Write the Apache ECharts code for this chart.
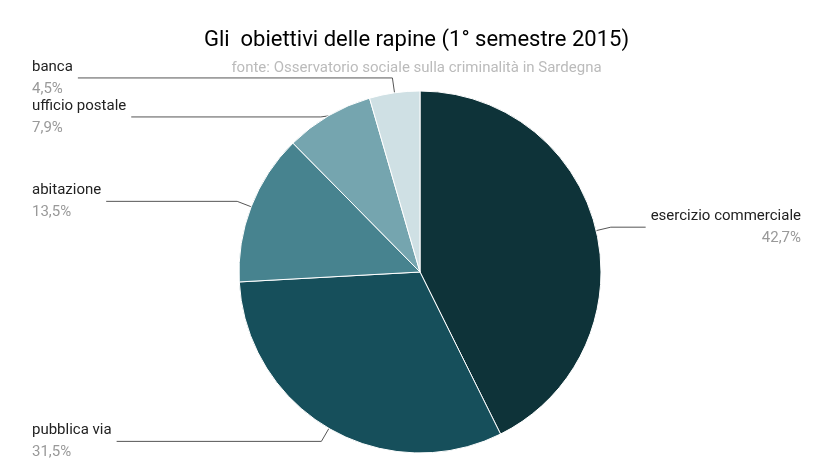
<!DOCTYPE html>
<html><head><meta charset="utf-8">
<script src="https://cdn.jsdelivr.net/npm/echarts@6/dist/echarts.min.js"></script>
<style>html,body{margin:0;background:#fff}#c{width:833px;height:476px}</style>
</head><body><div id="c"></div>
<script>
// Chart data
const categories = ['esercizio commerciale', 'pubblica via', 'abitazione', 'ufficio postale', 'banca'];
const values = [42.7, 31.5, 13.5, 7.9, 4.5];
const colors = ['#0e3339', '#164f5b', '#47838f', '#75a5af', '#cfe0e4'];

const chart = echarts.init(document.getElementById('c'));
chart.setOption({
    title: {
        text: 'Gli  obiettivi delle rapine (1° semestre 2015)',
        subtext: 'fonte: Osservatorio sociale sulla criminalità in Sardegna',
        left: 'center', top: 24, itemGap: 10,
        textStyle: { fontFamily: 'Roboto', fontSize: 22, fontWeight: 'normal', color: '#000' },
        subtextStyle: { fontFamily: 'Roboto', fontSize: 15, color: '#bbb' }
    },
    series: [{
        type: 'pie',
        center: [420, 272],
        radius: 181,
        startAngle: 90,
        clockwise: true,
        data: categories.map((n, i) => ({ name: n, value: values[i], itemStyle: { color: colors[i] } })),
        itemStyle: { borderColor: '#fff', borderWidth: 1 },
        label: {
            alignTo: 'edge',
            edgeDistance: 32,
            fontFamily: 'Roboto',
            formatter: p => '{n|' + p.name + '}\n{v|' + p.value.toFixed(1).replace('.', ',') + '%}',
            rich: {
                n: { fontSize: 15, color: '#222', lineHeight: 22 },
                v: { fontSize: 15, color: '#999', lineHeight: 22 }
            }
        },
        labelLine: { length: 15, length2: 10, lineStyle: { color: '#555', width: 1 } },
        animation: false
    }]
});
</script></body></html>
